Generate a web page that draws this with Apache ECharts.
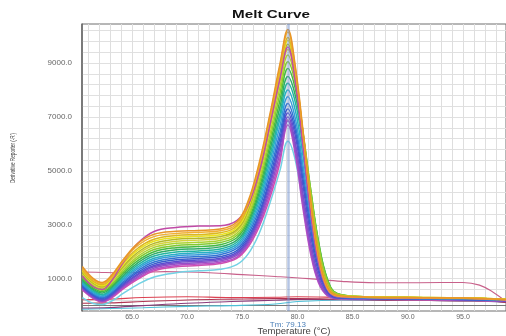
<!DOCTYPE html>
<html>
<head>
<meta charset="utf-8">
<script src="https://cdn.jsdelivr.net/npm/echarts@6/dist/echarts.min.js"></script>
<style>
  html, body { margin: 0; padding: 0; background: #ffffff; }
  #chart { width: 506px; height: 336px; }
</style>
</head>
<body>
<div id="chart"></div>
<script>
// Melt-curve temperatures (°C) shared by the amplified wells
const temps = [60.5, 61.5, 62.3, 63.2, 64.2, 65.5, 67, 69, 71, 73, 74.5, 75.5, 76.5, 77.5, 78.4, 79.13, 79.8, 80.5, 81.2, 81.9, 82.7, 83.6, 86, 90, 95, 98.9];

// Derivative reporter (-R') per well
const wellOrange1  = [1450, 1000, 860, 1150, 1700, 2300, 2650, 2760, 2790, 2840, 3100, 3850, 5250, 7100, 8950, 10250, 8900, 6500, 3900, 1900, 700, 380, 320, 300, 280, 230];
const wellOrange2  = [1380, 950, 820, 1100, 1650, 2220, 2560, 2680, 2720, 2780, 3030, 3780, 5150, 7000, 8850, 10150, 8800, 6400, 3800, 1800, 650, 360, 310, 290, 270, 220];
const wellGold     = [1320, 900, 780, 1060, 1580, 2120, 2460, 2600, 2640, 2700, 2960, 3680, 5050, 6900, 8700, 9950, 8700, 6300, 3750, 1800, 680, 370, 320, 300, 280, 230];
const wellYellow1  = [1280, 870, 740, 1010, 1520, 2050, 2390, 2530, 2570, 2630, 2890, 3600, 4950, 6800, 8600, 9850, 8650, 6350, 3850, 1900, 720, 380, 330, 310, 290, 240];
const wellOlive    = [1230, 830, 700, 960, 1450, 1970, 2310, 2460, 2500, 2560, 2820, 3500, 4850, 6700, 8500, 9700, 8600, 6400, 4000, 2050, 800, 400, 330, 310, 290, 240];
const wellYellow2  = [1180, 790, 670, 920, 1400, 1900, 2240, 2390, 2430, 2490, 2760, 3420, 4750, 6550, 8300, 9500, 8450, 6300, 3950, 2000, 780, 390, 320, 300, 280, 230];
const wellMauve    = [1100, 700, 600, 950, 1600, 2300, 2750, 2900, 2950, 2960, 3150, 3700, 4900, 6700, 8400, 9600, 8300, 5900, 3400, 1600, 600, 330, 300, 280, 260, 210];
const wellYGreen   = [1120, 750, 620, 860, 1330, 1820, 2160, 2310, 2350, 2420, 2680, 3320, 4600, 6350, 8100, 9300, 8350, 6400, 4150, 2200, 850, 420, 330, 300, 280, 230];
const wellLime     = [1060, 700, 570, 800, 1260, 1740, 2080, 2230, 2270, 2340, 2600, 3220, 4450, 6150, 7850, 9050, 8250, 6450, 4300, 2350, 950, 440, 330, 300, 280, 230];
const wellGreen1   = [1000, 650, 520, 750, 1190, 1660, 2000, 2150, 2190, 2260, 2520, 3120, 4300, 5950, 7600, 8800, 8050, 6350, 4300, 2400, 1000, 450, 330, 300, 270, 220];
const wellGreen2   = [950, 600, 470, 700, 1120, 1580, 1920, 2070, 2110, 2180, 2430, 3020, 4150, 5750, 7350, 8500, 7800, 6200, 4200, 2350, 980, 440, 320, 290, 270, 220];
const wellTealGrn  = [900, 560, 420, 650, 1060, 1500, 1840, 1990, 2030, 2100, 2350, 2920, 4000, 5550, 7100, 8250, 7550, 5900, 3950, 2150, 880, 400, 310, 280, 260, 210];
const wellTeal     = [850, 510, 380, 600, 1000, 1430, 1760, 1910, 1960, 2030, 2270, 2820, 3850, 5350, 6900, 8000, 7250, 5550, 3600, 1900, 760, 360, 300, 280, 260, 210];
const wellSky      = [800, 470, 340, 550, 940, 1360, 1690, 1840, 1890, 1960, 2200, 2720, 3700, 5150, 6650, 7750, 6950, 5200, 3300, 1700, 680, 340, 290, 270, 250, 200];
const wellBlue1    = [760, 430, 300, 500, 880, 1290, 1620, 1770, 1820, 1890, 2120, 2620, 3550, 4950, 6400, 7500, 6700, 4950, 3050, 1550, 620, 320, 280, 260, 240, 200];
const wellBlue2    = [720, 390, 260, 460, 830, 1230, 1550, 1700, 1750, 1820, 2040, 2520, 3400, 4750, 6200, 7300, 6500, 4700, 2850, 1400, 560, 300, 270, 250, 230, 190];
const wellIndigo   = [690, 360, 220, 420, 780, 1170, 1490, 1640, 1690, 1760, 1980, 2440, 3300, 4600, 6000, 7150, 6300, 4450, 2600, 1250, 500, 290, 260, 250, 230, 190];
const wellViolet   = [660, 330, 190, 390, 740, 1120, 1440, 1590, 1640, 1710, 1920, 2370, 3200, 4450, 5850, 7000, 6050, 4150, 2350, 1100, 450, 280, 260, 240, 220, 180];
const wellPurple   = [630, 300, 170, 360, 700, 1070, 1390, 1540, 1590, 1660, 1860, 2300, 3100, 4300, 5650, 6850, 5800, 3850, 2100, 950, 400, 270, 250, 240, 220, 180];
const wellMagenta1 = [600, 280, 150, 330, 660, 1020, 1340, 1490, 1540, 1610, 1800, 2230, 3000, 4150, 5450, 6700, 5600, 3600, 1900, 850, 370, 260, 250, 230, 210, 170];
const wellMagenta2 = [580, 260, 130, 300, 620, 970, 1290, 1440, 1490, 1560, 1750, 2160, 2900, 4000, 5300, 6900, 5900, 3900, 2100, 950, 400, 270, 250, 230, 210, 170];
const wellCyan     = [300, 80, 40, 180, 450, 780, 1060, 1220, 1290, 1350, 1520, 1900, 2650, 3800, 5000, 6100, 5400, 3700, 2000, 900, 380, 260, 240, 230, 210, 170];

// Non-amplified wells (flat traces)
const pinkTemps = [60.5, 62.3, 64, 66, 68, 70, 72, 75, 78, 81, 84, 87, 91, 95, 96.5, 97.8, 98.9];
const wellPinkFlat = [1250, 1230, 1220, 1240, 1260, 1250, 1220, 1150, 1080, 1000, 900, 850, 850, 860, 760, 480, 150];
const lowTemps = [60.5, 63, 66, 70, 74, 78, 80, 84, 88, 92, 96, 98.9];
const wellRedA   = [220, 240, 300, 330, 300, 310, 330, 300, 270, 280, 260, 190];
const wellRedB   = [90, 100, 150, 210, 240, 260, 260, 240, 210, 190, 180, 130];
const wellPlum   = [-90, -70, 0, 90, 150, 200, 230, 220, 200, 190, 170, 120];
const wellCyanLo = [-130, -110, -80, -30, 0, 60, 150, 210, 200, 190, 170, 140];

// Melting temperature and axis ticks
const meltTm = 79.13;
const xTickLabels = [65, 70, 75, 80, 85, 90, 95];
const yTickLabels = [1000, 3000, 5000, 7000, 9000];

// Draw order: low traces first, warm colours on top
const amplified = [
  { values: wellCyan,     color: '#72d2e4' },
  { values: wellMagenta2, color: '#d04fae' },
  { values: wellMagenta1, color: '#b84ec4' },
  { values: wellPurple,   color: '#9350c6' },
  { values: wellViolet,   color: '#7a4ecb' },
  { values: wellIndigo,   color: '#5a4ed0' },
  { values: wellBlue2,    color: '#3a5ccc' },
  { values: wellBlue1,    color: '#3274d4' },
  { values: wellSky,      color: '#369ada' },
  { values: wellTeal,     color: '#28aec4' },
  { values: wellTealGrn,  color: '#22b4a0' },
  { values: wellGreen2,   color: '#30ac68' },
  { values: wellGreen1,   color: '#44ba44' },
  { values: wellLime,     color: '#84ca30' },
  { values: wellYGreen,   color: '#acd230' },
  { values: wellYellow2,  color: '#d4d23c' },
  { values: wellOlive,    color: '#b4b828' },
  { values: wellYellow1,  color: '#eae21e' },
  { values: wellGold,     color: '#dcb820' },
  { values: wellMauve,    color: '#c04aa6' },
  { values: wellOrange2,  color: '#f0b032' },
  { values: wellOrange1,  color: '#e89628' }
];
const flatWells = [
  { t: lowTemps,  values: wellCyanLo,   color: '#4cc0d8' },
  { t: lowTemps,  values: wellPlum,     color: '#8a3a7a' },
  { t: lowTemps,  values: wellRedB,     color: '#b03452' },
  { t: lowTemps,  values: wellRedA,     color: '#dc4050' },
  { t: pinkTemps, values: wellPinkFlat, color: '#c8608a' }
];

const pairs = (xs, ys) => xs.map((x, i) => [x, ys[i]]);

// Grid line positions (1 °C and 400-unit steps)
const xGrid = [];
for (let t = 61; t <= 98; t++) xGrid.push(t);
const yGrid = [];
for (let v = 200; v <= 10200; v += 400) yGrid.push(v);

const series = [];
flatWells.forEach(w => series.push({
  type: 'line', data: pairs(w.t, w.values), smooth: 0.4,
  symbol: 'none', silent: true,
  lineStyle: { color: w.color, width: 1.1 }
}));
amplified.forEach(w => series.push({
  type: 'line', data: pairs(temps, w.values), smooth: 0.4,
  symbol: 'none', silent: true,
  lineStyle: { color: w.color, width: 1.5 }
}));
// Tm marker
series.push({
  type: 'line', data: [], symbol: 'none', silent: true,
  markLine: {
    symbol: 'none', silent: true,
    lineStyle: { color: 'rgba(120,150,205,0.55)', width: 2.5, type: 'solid' },
    label: {
      show: true, position: 'start', distance: 10,
      formatter: 'Tm: ' + meltTm.toFixed(2),
      color: '#4a7fb8', fontSize: 8, fontFamily: 'Liberation Sans'
    },
    data: [{ xAxis: meltTm }]
  }
});

const chart = echarts.init(document.getElementById('chart'), null, { renderer: 'canvas' });
chart.setOption({
  backgroundColor: '#ffffff',
  animation: false,
  grid: {
    left: 82, right: 0, top: 24, bottom: 25, show: true,
    outerBoundsMode: 'none', containLabel: false,
    borderColor: '#6e6e6e', borderWidth: 1
  },
  xAxis: {
    type: 'value', min: 60.47, max: 98.9,
    name: 'Temperature (°C)', nameLocation: 'middle', nameGap: 14,
    nameTextStyle: { fontSize: 9.5, color: '#444', fontFamily: 'Liberation Sans' },
    axisLine: { show: true, lineStyle: { color: '#777', width: 1 } },
    axisTick: { show: false, customValues: xGrid },
    axisLabel: {
      customValues: xTickLabels, fontSize: 7, color: '#666', margin: 3,
      fontFamily: 'Liberation Sans', formatter: v => v.toFixed(1)
    },
    splitLine: { show: true, lineStyle: { color: '#dedede', width: 1 } }
  },
  yAxis: {
    type: 'value', min: -200, max: 10450,
    axisLine: { show: true, lineStyle: { color: '#666', width: 1.5 } },
    axisTick: { show: false, customValues: yGrid },
    axisLabel: {
      customValues: yTickLabels, fontSize: 8, color: '#666', margin: 10,
      fontFamily: 'Liberation Sans', formatter: v => v.toFixed(1)
    },
    splitLine: { show: true, lineStyle: { color: '#e0e0e0', width: 1 } }
  },
  graphic: [{
    // chart title, set wide and heavy
    type: 'text', x: 271, y: 15, scaleX: 1.45,
    style: {
      text: 'Melt Curve', fontSize: 10.5, fontWeight: 'bold', fill: '#111',
      fontFamily: 'Liberation Sans', textAlign: 'center', textVerticalAlign: 'middle'
    }
  }, {
    // y-axis title, condensed and rotated
    type: 'text', x: 13, y: 158, rotation: Math.PI / 2, scaleX: 0.62,
    style: {
      text: "Derivative Reporter (-R')", fontSize: 7.5, fill: '#444',
      fontFamily: 'Liberation Sans', textAlign: 'center', textVerticalAlign: 'middle'
    }
  }],
  series: series
});
</script>
</body>
</html>
